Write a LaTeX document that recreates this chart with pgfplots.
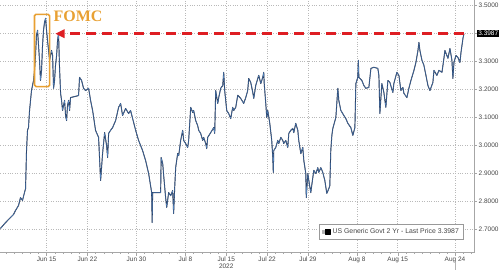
\documentclass[border=0pt]{standalone}
\usepackage{pgfplots}
\pgfplotsset{compat=1.18}
\usepackage{fontspec}
\setmainfont{Liberation Sans}
\newfontfamily\serifb{Liberation Serif}
\usetikzlibrary{arrows.meta}
\definecolor{gridc}{RGB}{185,185,185}
\definecolor{txtc}{RGB}{70,70,70}
\definecolor{lineblue}{RGB}{80,130,190}
\definecolor{linedark}{RGB}{25,35,60}
\definecolor{fomc}{RGB}{232,160,50}
\definecolor{arrred}{RGB}{222,30,35}
\pgfplotstableread{
x y
-5.64 2.704
-5.02 2.725
-4.41 2.743
-4.04 2.754
-3.80 2.768
-3.43 2.786
-3.19 2.814
-2.94 2.804
-2.70 2.832
-2.57 2.846
-2.45 2.982
-2.33 3.054
-2.21 3.064
-2.08 3.125
-1.96 3.161
-1.84 3.196
-1.72 3.214
-1.59 3.232
-1.47 3.268
-1.35 3.322
-1.23 3.393
-1.10 3.411
-0.98 3.357
-0.86 3.304
-0.74 3.232
-0.61 3.268
-0.49 3.357
-0.37 3.411
-0.25 3.439
-0.12 3.454
0.00 3.411
0.12 3.375
0.25 3.339
0.37 3.304
0.61 3.339
0.74 3.321
0.86 3.204
0.98 3.232
1.10 3.286
1.23 3.321
1.35 3.375
1.47 3.400
1.59 3.279
1.72 3.186
1.84 3.161
1.96 3.125
2.08 3.143
2.21 3.161
2.33 3.107
2.45 3.089
2.57 3.143
2.70 3.161
2.82 3.125
2.94 3.171
3.92 3.178
4.04 3.243
4.29 3.232
4.53 3.204
4.78 3.196
5.15 3.204
5.39 3.161
5.64 3.125
6.00 3.054
6.37 3.029
6.62 2.875
6.86 2.971
7.11 3.046
7.35 3.000
7.48 2.957
7.60 3.043
7.84 3.054
8.09 3.064
8.46 3.089
8.82 3.136
9.07 3.150
9.31 3.107
9.68 3.132
10.05 3.114
10.29 3.125
10.54 3.096
10.91 3.054
11.27 3.018
11.76 2.982
12.13 2.946
12.50 2.900
12.87 2.832
12.93 2.725
12.99 2.832
13.97 2.832
14.03 2.957
14.22 2.936
14.34 2.893
14.58 2.814
14.71 2.779
14.95 2.832
15.20 2.821
15.44 2.839
15.56 2.757
15.69 2.850
15.81 2.921
16.05 2.971
16.18 2.964
16.42 3.018
16.67 3.054
16.79 3.018
17.03 3.007
17.28 2.993
17.40 3.018
17.65 3.136
17.89 3.118
18.01 3.125
18.26 3.089
18.50 3.071
18.63 3.054
18.87 3.043
19.12 3.018
19.24 3.029
19.49 3.007
19.61 2.989
19.73 3.029
20.10 3.046
20.47 3.064
20.59 3.043
20.71 3.196
20.96 3.150
21.08 3.171
21.32 3.204
21.57 3.214
21.69 3.261
21.81 3.196
22.06 3.125
22.30 3.114
22.55 3.096
22.79 3.136
22.92 3.125
23.16 3.136
23.41 3.179
23.77 3.168
24.14 3.150
24.39 3.171
24.63 3.196
24.75 3.239
25.00 3.225
25.25 3.189
25.37 3.168
25.61 3.214
25.86 3.239
25.98 3.250
26.23 3.221
26.47 3.243
26.59 3.261
26.65 3.221
26.84 3.150
26.96 3.100
27.08 3.125
27.33 3.079
27.57 3.018
27.70 2.957
27.76 2.904
27.82 2.982
28.06 2.993
28.31 3.018
28.43 3.007
28.68 3.029
28.92 3.018
29.04 3.007
29.29 3.018
29.53 2.993
29.66 3.043
29.90 3.054
30.15 3.061
30.27 3.046
30.51 3.079
30.76 3.054
30.88 3.018
31.13 2.971
31.37 2.993
31.50 2.946
31.74 2.900
31.80 2.814
31.99 2.900
32.11 2.875
32.35 2.832
32.60 2.886
32.72 2.911
32.97 2.900
33.21 2.921
33.33 2.904
33.58 2.921
33.82 2.904
34.07 2.875
34.31 2.829
34.56 2.846
34.68 2.857
34.80 2.982
34.93 3.036
35.05 3.061
35.42 3.100
35.66 3.204
35.78 3.161
36.03 3.125
36.40 3.107
36.64 3.096
36.89 3.079
37.25 3.064
37.50 3.036
37.75 3.064
37.87 3.221
38.11 3.243
38.17 3.304
38.24 3.243
38.60 3.232
38.85 3.214
39.09 3.204
39.46 3.207
39.71 3.275
40.07 3.279
40.56 3.275
40.69 3.250
40.81 3.114
41.05 3.221
41.30 3.189
41.54 3.136
41.79 3.232
42.03 3.225
42.40 3.189
42.52 3.221
42.89 3.261
43.14 3.250
43.38 3.196
43.63 3.207
43.75 3.186
44.12 3.171
44.36 3.204
44.61 3.232
44.98 3.268
45.22 3.296
45.47 3.339
45.59 3.368
45.71 3.339
45.96 3.304
46.20 3.286
46.45 3.250
46.69 3.214
46.94 3.196
47.30 3.225
47.43 3.268
47.79 3.250
48.04 3.268
48.41 3.261
48.65 3.311
48.77 3.339
49.14 3.311
49.39 3.346
49.63 3.304
49.75 3.239
49.88 3.296
50.12 3.321
50.37 3.314
50.61 3.296
50.74 3.332
50.98 3.382
51.10 3.3987
}\yields
\begin{document}
\begin{tikzpicture}
\begin{axis}[
  scale only axis,
  width=473bp, height=252bp,
  xmin=-5.64, xmax=52.33,
  ymin=2.618, ymax=3.518,
  axis x line=bottom, axis y line=right,
  axis line style={draw=gray!70, -},
  xtick={0,5,11,17,22,27,32,38,43,50},
  xticklabels={Jun 15,Jun 22,Jun 30,Jul 8,{Jul 15\\2022},Jul 22,Jul 29,Aug 8,Aug 15,Aug 24},
  minor xtick={-5,...,52},
  ytick={2.7,2.8,2.9,3.0,3.1,3.2,3.3,3.4,3.5},
  yticklabel={\pgfmathprintnumber[fixed,fixed zerofill,precision=4,assume math mode=true]{\tick}},
  ticklabel style={font=\fontsize{6.5}{7}\selectfont, text=txtc},
  xticklabel style={align=center, inner sep=1.5pt},
  yticklabel style={inner sep=1.5pt},
  tick style={draw=gray!70},
  major tick length=3bp, minor tick length=1.5bp,
  tick align=outside,
  grid=major,
  major grid style={draw=gridc, dotted, line width=0.6pt},
  clip=false,
  legend style={at={(rel axis cs:0.977,0.052)}, anchor=south east, draw=gray!80, line width=0.5pt,
    font=\fontsize{6.9}{7.5}\selectfont, text=txtc, inner xsep=2pt, inner ysep=2pt, row sep=0pt},
  legend cell align=left,
]
\addplot[draw=linedark, line width=0.95pt, line join=round, forget plot] table[x=x,y=y] {\yields};
\addplot[draw=lineblue, line width=0.4pt, line join=round,
  legend image code/.code={\fill[gray!60] (0bp,-1.5bp) rectangle (2.5bp,1.5bp); \fill[black] (3.5bp,-2.5bp) rectangle (8.5bp,2.5bp);}]
  table[x=x,y=y] {\yields};
\addlegendentry{US Generic Govt 2 Yr - Last Price 3.3987}
\coordinate (arrEnd) at (axis cs:51.1,3.3987);
\coordinate (arrTip) at (axis cs:1.1,3.3987);
\coordinate (boxA) at (axis cs:-1.47,3.468);
\coordinate (boxB) at (axis cs:0.37,3.210);
\coordinate (fomcT) at (axis cs:0.85,3.462);
\coordinate (lastLbl) at (axis cs:52.33,3.3987);
\coordinate (aug24) at (axis cs:50,2.618);
\end{axis}
\draw[gray!60, line width=0.5pt] ([yshift=-9bp]aug24) -- ([yshift=-17bp]aug24);
\draw[arrred, line width=2.8bp, dash pattern=on 10bp off 6bp] (arrEnd) -- ([xshift=8bp]arrTip);
\fill[arrred] (arrTip) -- ([xshift=9bp,yshift=4.5bp]arrTip) -- ([xshift=9bp,yshift=-4.5bp]arrTip) -- cycle;
\draw[fomc, line width=1.6bp, rounded corners=1.5bp] (boxA) rectangle (boxB);
\node[anchor=west, text=fomc, font=\serifb\bfseries\fontsize{16}{16}\selectfont, inner sep=0pt] at (fomcT) {FOMC};
\node[fill=black, text=white, font=\fontsize{6.5}{7}\selectfont, inner sep=1.2pt, anchor=west] at ([xshift=3bp]lastLbl) {3.3987};
\end{tikzpicture}
\end{document}
